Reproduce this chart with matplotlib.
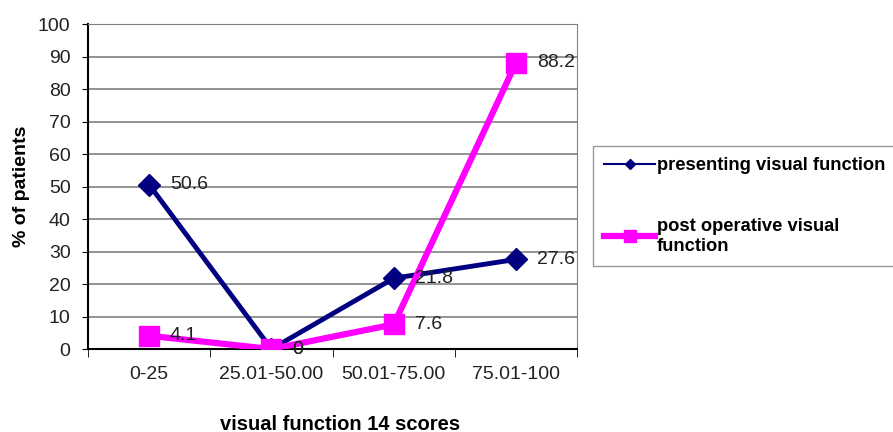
import matplotlib
matplotlib.use("Agg")
import matplotlib.pyplot as plt
from matplotlib.lines import Line2D

plt.rcParams['font.family'] = ['Liberation Sans', 'DejaVu Sans']

categories = ['0-25', '25.01-50.00', '50.01-75.00', '75.01-100']
presenting = [50.6, 0, 21.8, 27.6]
post_op = [4.1, 0, 7.6, 88.2]
yticks = list(range(0, 101, 10))

fig = plt.figure(figsize=(8.93, 4.32), dpi=100)
ax = fig.add_axes([0.0985, 0.192, 0.548, 0.752])

x = list(range(len(categories)))
ax.plot(x, presenting, color='#000080', lw=3.5, marker='D', ms=11, zorder=3)
ax.plot(x, post_op, color='#FF00FF', lw=4.5, marker='s', ms=14, zorder=4)

# value labels sit to the right of each marker
for series in (presenting, post_op):
    for xi, v in zip(x, series):
        ax.annotate(f'{v:g}', (xi, v), xytext=(15, 0), textcoords='offset points',
                    va='center', ha='left', fontsize=14, color='#222222', zorder=5)

ax.set_xlim(-0.5, 3.5)
ax.set_ylim(0, 100)
ax.set_yticks(yticks)
ax.tick_params(axis='y', labelsize=14, length=4.5, direction='out', pad=8,
               labelcolor='#222222')
ax.set_xticks(x)
ax.set_xticklabels(categories, fontsize=14, color='#222222')
ax.tick_params(axis='x', length=0, pad=12)
ax.set_xticks([-0.5, 0.5, 1.5, 2.5, 3.5], minor=True)
ax.tick_params(axis='x', which='minor', length=6, direction='out')
ax.grid(axis='y', color='#808080', lw=1.2)
ax.set_axisbelow(True)
ax.spines['left'].set_color('black')
ax.spines['bottom'].set_color('black')
ax.spines['left'].set_linewidth(1.5)
ax.spines['bottom'].set_linewidth(1.5)
ax.spines['top'].set_color('#808080')
ax.spines['right'].set_color('#808080')

ax.set_ylabel('% of patients', fontsize=14, fontweight='bold', va='center')
ax.yaxis.set_label_coords(-0.135, 0.5)
ax.set_xlabel('visual function 14 scores', fontsize=14.5, fontweight='bold', va='center')
ax.xaxis.set_label_coords(0.515, -0.231)

handles = [
    Line2D([], [], color='#000080', lw=1.5, marker='D', ms=5),
    Line2D([], [], color='#FF00FF', lw=4.5, marker='s', ms=9),
]
labels = ['presenting visual function', 'post operative visual\nfunction']
fig.legend(handles, labels, loc='upper left', bbox_to_anchor=(0.664, 0.662),
           borderaxespad=0, frameon=True, fancybox=False, edgecolor='#808080',
           prop={'weight': 'bold', 'size': 13.2}, handlelength=2.8,
           handletextpad=0.1, labelspacing=2.4, borderpad=0.6)

fig.savefig('out.png', dpi=100)
